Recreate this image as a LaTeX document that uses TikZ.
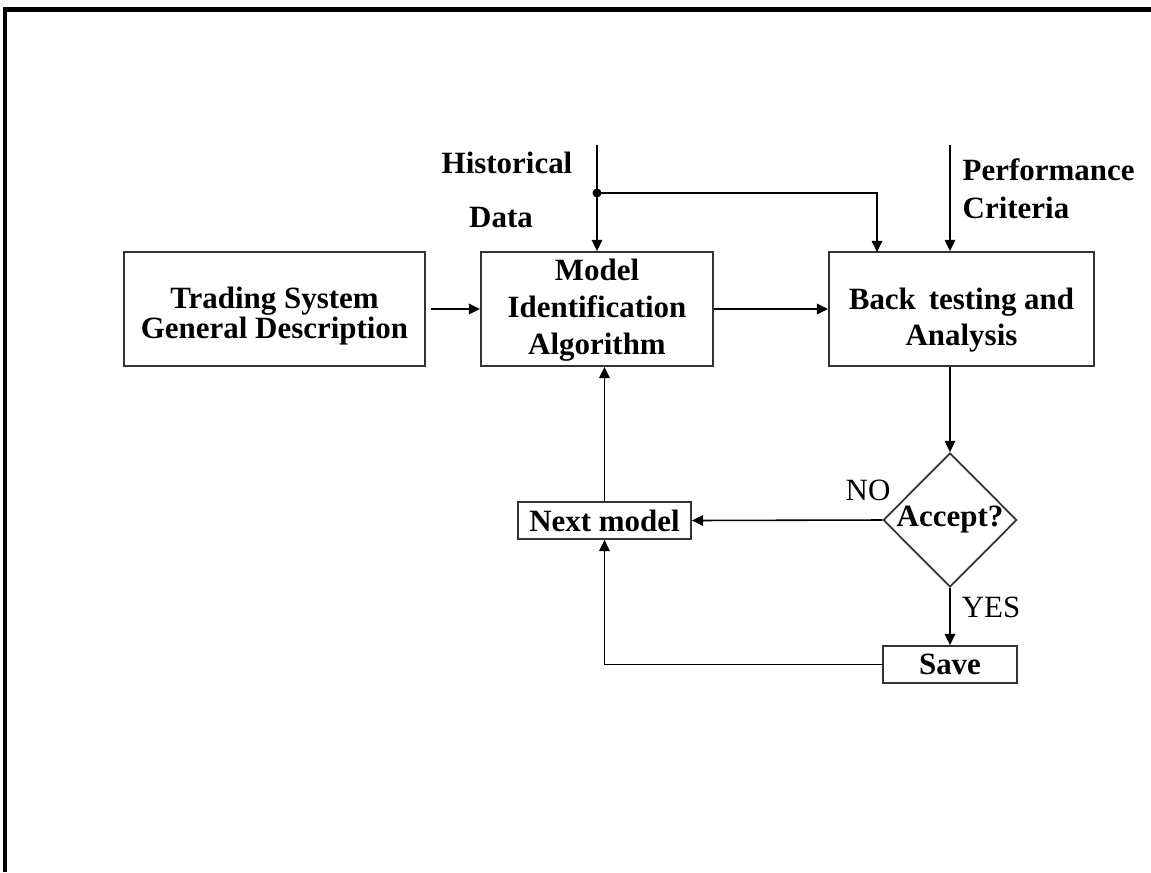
\documentclass[tikz,border=0pt]{standalone}
\usepackage{fontspec}
\setmainfont{Liberation Serif}
\usetikzlibrary{shapes.geometric, arrows.meta}
\tikzstyle{arrow} = [line width=0.45pt,-{Triangle[length=3.2pt,width=3pt]}]
\tikzstyle{block} = [rectangle, draw=black!80, line width=0.5pt, inner sep=0pt, align=center, font=\fontsize{8.8}{10.5}\selectfont\bfseries]
\tikzstyle{decision} = [diamond, aspect=1, draw=black!80, line width=0.5pt, inner sep=0pt, minimum width=1.33cm, minimum height=1.34cm, font=\fontsize{8.8}{10.5}\selectfont\bfseries]
\tikzstyle{inputtext} = [inner sep=0pt, anchor=base, font=\fontsize{8.8}{10.5}\selectfont\bfseries]
\tikzstyle{answertext} = [inner sep=0pt, font=\fontsize{8.8}{10.5}\selectfont]

\begin{document}
\begin{tikzpicture}[x=0.01cm, y=-0.01cm]

\useasboundingbox (0,0) rectangle (1151,872);
\draw[line width=1.15pt] (5,872) -- (5,9.5) -- (1151,9.5);

% main blocks
\node (trading) [block, minimum width=3.01cm, minimum height=1.14cm] at (274.5,309) {};
\node at (274.5,316) [block, draw=none, font=\fontsize{8.8}{8.3}\selectfont\bfseries]
      {Trading System\\ General Description};
\node (model) [block, minimum width=2.32cm, minimum height=1.14cm] at (597,309) {};
\node at (597,310) [block, draw=none] {Model\\ Identification\\ Algorithm};
\node (back) [block, minimum width=2.65cm, minimum height=1.14cm] at (961.5,309) {};
\node at (961.5,320) [block, draw=none, font=\fontsize{8.8}{10.2}\selectfont\bfseries]
      {Back\, testing and\\ Analysis};
\node (accept) [decision] at (950,520) {Accept?};
\node (next) [block, minimum width=1.73cm, minimum height=0.37cm] at (604.5,520.5) {Next model};
\node (save) [block, minimum width=1.34cm, minimum height=0.37cm] at (950,664.5) {Save};

% inputs
\node (hist) [inputtext] at (507,173) {Historical};
\node (data) [inputtext] at (501,227) {Data};
\node (perf) [inputtext, anchor=base west] at (962,180) {Performance};
\node (crit) [inputtext, anchor=base west] at (962,218) {Criteria};
\coordinate (histtop) at (597,145);
\coordinate (split) at (597,193);
\coordinate (perftop) at (950,145);

\draw[arrow] (histtop) -- (model.north);
\fill (split) circle (4.5);
\draw[arrow] (split) -| (877,252);
\draw[arrow] (perftop) -- (perftop |- back.north);

% flow
\draw[arrow, shorten <=0.05cm] (trading.east) -- (model.west);
\draw[arrow] (model.east) -- (back.west);
\draw[arrow] (accept.north |- back.south) -- (accept.north);
\draw[arrow] (accept.west) -- (next.east);
\draw[arrow] (accept.south) -- (save.north);
\draw[arrow] (save.west) -| (next.south);
\draw[arrow] (next.north) -- (next.north |- model.south);

\node (no) [answertext] at (868,490) {NO};
\node (yes) [answertext] at (991,607) {YES};

\end{tikzpicture}
\end{document}
